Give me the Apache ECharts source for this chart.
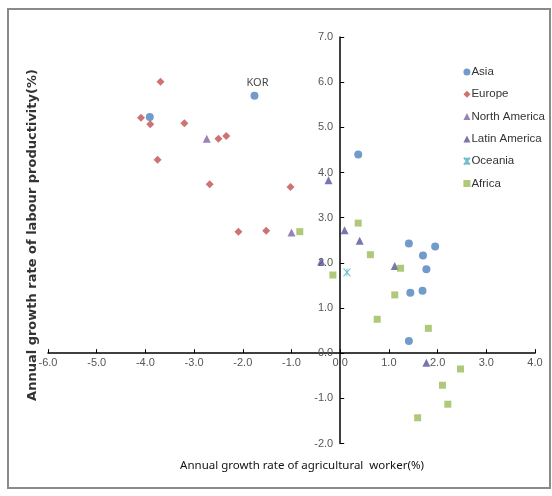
<!DOCTYPE html>
<html>
<head>
<meta charset="utf-8">
<script src="https://cdn.jsdelivr.net/npm/echarts@6/dist/echarts.min.js"></script>
<style>html,body{margin:0;padding:0;background:#fff;}#c{width:552px;height:496px;}</style>
</head>
<body>
<div id="c"></div>
<script>
const xTicks = [-6, -5, -4, -3, -2, -1, 0, 1, 2, 3, 4];
const yTicks = [-2, -1, 0, 1, 2, 3, 4, 5, 6, 7];
const seriesNames = ['Asia', 'Europe', 'North America', 'Latin America', 'Oceania', 'Africa'];
const asia = [[-3.91, 5.23], [-1.76, 5.70], [0.37, 4.40], [1.41, 2.43], [1.95, 2.36], [1.70, 2.16], [1.77, 1.86], [1.44, 1.34], [1.69, 1.38], [1.41, 0.27]];
const europe = [[-3.69, 6.01], [-4.09, 5.21], [-3.90, 5.07], [-3.20, 5.09], [-3.75, 4.28], [-2.50, 4.75], [-2.34, 4.81], [-2.68, 3.74], [-1.02, 3.68], [-2.09, 2.69], [-1.52, 2.71]];
const northAmerica = [[-2.74, 4.75], [-1.00, 2.67]];
const latinAmerica = [[-0.24, 3.83], [0.09, 2.72], [0.40, 2.49], [-0.39, 2.03], [1.12, 1.93], [1.77, -0.21]];
const oceania = [[0.14, 1.79]];
const africa = [[-0.83, 2.69], [0.37, 2.88], [0.62, 2.18], [-0.15, 1.73], [1.24, 1.88], [1.12, 1.29], [0.76, 0.75], [1.81, 0.55], [2.47, -0.35], [2.10, -0.71], [2.21, -1.13], [1.59, -1.43]];
const labelledPoint = { name: 'KOR', series: 'Asia', index: 1 };

const chart = echarts.init(document.getElementById('c'));
const font = '"Liberation Sans", "Noto Sans", sans-serif';
const titleFont = '"Noto Sans", "Liberation Sans", sans-serif';
const xSym = 'path://M0,0L10,12M10,0L0,12M5,0L5,12';

const G = { left: 48, right: 17, top: 37, bottom: 52.5 };
const W = 552 - G.left - G.right, H = 496 - G.top - G.bottom;
const xMin = xTicks[0], xMax = xTicks[xTicks.length - 1];
const yMin = yTicks[0], yMax = yTicks[yTicks.length - 1];
// move axes so they cross at zero
const yAxisOffset = -((0 - xMin) / (xMax - xMin)) * W;
const xAxisOffset = -((0 - yMin) / (yMax - yMin)) * H;

function withLabel(arr, seriesName) {
  return arr.map((p, i) => {
    if (seriesName === labelledPoint.series && i === labelledPoint.index) {
      return { value: p, label: { show: true, formatter: labelledPoint.name, position: 'top', distance: 3, offset: [3, 0], fontSize: 11, color: '#111', fontFamily: titleFont } };
    }
    return p;
  });
}

const styles = [
  { symbol: 'circle', symbolSize: 8, itemStyle: { color: '#4F81BD' } },
  { symbol: 'diamond', symbolSize: 8, itemStyle: { color: '#C0504D' } },
  { symbol: 'triangle', symbolSize: 8, itemStyle: { color: '#8064A2' } },
  { symbol: 'triangle', symbolSize: 8, itemStyle: { color: '#55559A' } },
  { symbol: xSym, symbolSize: [7, 8], itemStyle: { color: 'rgba(0,0,0,0)', borderColor: '#4BACC6', borderWidth: 1 } },
  { symbol: 'rect', symbolSize: 7, itemStyle: { color: '#9BBB59' } }
];
const datas = [asia, europe, northAmerica, latinAmerica, oceania, africa];

chart.setOption({
  animation: false,
  backgroundColor: '#fff',
  textStyle: { fontFamily: font },
  grid: Object.assign({ containLabel: false }, G),
  xAxis: {
    type: 'value', min: xMin, max: xMax, interval: 1, position: 'bottom', offset: xAxisOffset,
    axisLine: { onZero: false, lineStyle: { color: '#000', width: 1.5 } },
    axisTick: { show: true, inside: true, length: 4, lineStyle: { color: '#000' } },
    axisLabel: { margin: 4, fontSize: 11, color: '#555', fontFamily: font, formatter: v => v.toFixed(1) },
    splitLine: { show: false }
  },
  yAxis: {
    type: 'value', min: yMin, max: yMax, interval: 1, position: 'left', offset: yAxisOffset,
    axisLine: { onZero: false, lineStyle: { color: '#000', width: 1.5 } },
    axisTick: { show: true, inside: true, length: 4, lineStyle: { color: '#000' } },
    axisLabel: { margin: 7, fontSize: 11, color: '#555', fontFamily: font, formatter: v => v.toFixed(1) },
    splitLine: { show: false }
  },
  legend: {
    orient: 'vertical', left: 458, top: 61, itemWidth: 7, itemHeight: 7, itemGap: 10.3,
    textStyle: { fontSize: 11.5, color: '#333', fontFamily: font, padding: [0, 0, 0, -4] },
    data: seriesNames
  },
  graphic: [
    { type: 'rect', shape: { x: 8, y: 9, width: 542, height: 479 }, style: { fill: 'none', stroke: '#8a8a8a', lineWidth: 2 }, silent: true },
    { type: 'text', x: 302, y: 466, style: { text: 'Annual growth rate of agricultural  worker(%)', font: '11.5px ' + titleFont, fill: '#111', textAlign: 'center', textVerticalAlign: 'middle' } },
    { type: 'text', x: 33, y: 235, rotation: Math.PI / 2, style: { text: 'Annual growth rate of labour productivity(%)', font: 'bold 13px "DejaVu Sans", sans-serif', fill: '#333', textAlign: 'center', textVerticalAlign: 'middle' } }
  ],
  series: seriesNames.map((n, i) => Object.assign({ name: n, type: 'scatter', data: withLabel(datas[i], n) }, styles[i]))
});
</script>
</body>
</html>
